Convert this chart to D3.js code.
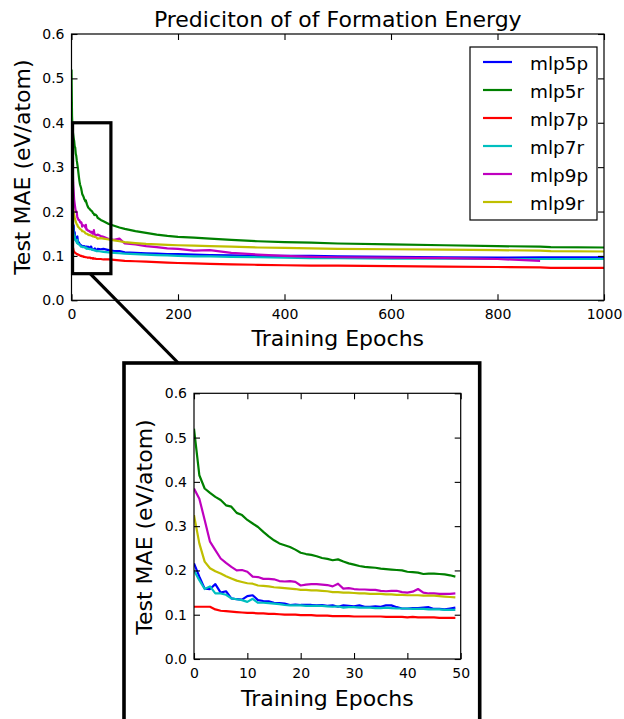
<!DOCTYPE html>
<html><head><meta charset="utf-8">
<script src="https://cdn.jsdelivr.net/npm/d3@7"></script>
<style>
html,body{margin:0;padding:0;background:#fff;}
svg{display:block;font-family:"DejaVu Sans",sans-serif;}
</style></head><body>
<svg id="chart" width="624" height="719"></svg>
<script>
// ---------------- DATA ----------------
const epochs = [0,1,2,3,4,5,6,7,8,9,10,11,12,13,14,15,16,17,18,19,20,21,22,23,24,25,26,27,28,29,30,31,32,33,34,35,36,37,38,39,40,41,42,43,44,45,46,47,48,49,
  55,60,70,80,90,100,120,140,160,180,200,230,260,300,350,400,450,500,600,700,800,880,900,1000];

const mlp5p = [0.216,0.186,0.159,0.158,0.169,0.150,0.153,0.137,0.135,0.134,0.142,0.144,0.133,0.131,0.130,0.127,0.126,0.125,0.122,0.123,0.122,0.122,0.122,0.121,0.122,0.120,0.121,0.118,0.121,0.120,0.119,0.121,0.118,0.118,0.119,0.118,0.121,0.121,0.117,0.114,0.114,0.115,0.115,0.116,0.117,0.113,0.113,0.112,0.114,0.116,
  0.115,0.116,0.113,0.111,0.111,0.108,0.107,0.106,0.105,0.104,0.104,0.103,0.102,0.101,0.100,0.100,0.100,0.099,0.098,0.097,0.096,0.097,0.097,0.097];
const mlp5r = [0.520,0.415,0.385,0.375,0.366,0.359,0.347,0.344,0.330,0.325,0.314,0.306,0.298,0.287,0.277,0.268,0.261,0.257,0.253,0.247,0.240,0.237,0.235,0.232,0.228,0.226,0.223,0.225,0.220,0.216,0.213,0.210,0.208,0.207,0.206,0.204,0.203,0.202,0.201,0.200,0.197,0.196,0.195,0.192,0.193,0.193,0.192,0.191,0.189,0.186,
  0.181,0.178,0.172,0.168,0.164,0.161,0.156,0.152,0.148,0.145,0.143,0.141,0.139,0.136,0.133,0.131,0.130,0.128,0.126,0.124,0.122,0.121,0.120,0.119];
const mlp7p = [0.118,0.118,0.118,0.118,0.112,0.109,0.108,0.107,0.106,0.105,0.104,0.104,0.103,0.103,0.102,0.102,0.101,0.100,0.100,0.100,0.099,0.099,0.099,0.098,0.098,0.098,0.097,0.097,0.097,0.097,0.096,0.096,0.096,0.096,0.096,0.096,0.095,0.095,0.095,0.095,0.094,0.095,0.094,0.094,0.094,0.094,0.093,0.093,0.093,0.093,
  0.093,0.092,0.092,0.091,0.090,0.089,0.088,0.087,0.086,0.085,0.084,0.083,0.082,0.081,0.080,0.079,0.078,0.078,0.077,0.076,0.075,0.074,0.073,0.073];
const mlp7r = [0.200,0.178,0.158,0.164,0.148,0.148,0.145,0.137,0.135,0.133,0.129,0.136,0.127,0.127,0.126,0.125,0.124,0.122,0.121,0.121,0.121,0.120,0.120,0.120,0.120,0.119,0.118,0.119,0.116,0.117,0.117,0.116,0.116,0.116,0.115,0.115,0.116,0.115,0.114,0.114,0.114,0.113,0.113,0.113,0.112,0.112,0.112,0.111,0.111,0.111,
  0.110,0.109,0.108,0.107,0.106,0.105,0.104,0.103,0.102,0.101,0.100,0.099,0.099,0.098,0.097,0.096,0.095,0.095,0.094,0.094,0.093,0.093,0.093,0.093];
const mlp9p = [0.385,0.362,0.314,0.265,0.246,0.227,0.217,0.208,0.200,0.201,0.197,0.186,0.185,0.181,0.181,0.180,0.176,0.175,0.176,0.174,0.166,0.168,0.169,0.169,0.168,0.167,0.164,0.170,0.159,0.160,0.158,0.157,0.157,0.156,0.156,0.154,0.153,0.154,0.154,0.151,0.150,0.152,0.158,0.150,0.148,0.148,0.147,0.147,0.147,0.148,
  0.145,0.143,0.138,0.136,0.139,0.128,0.126,0.122,0.120,0.117,0.116,0.112,0.113,0.107,0.103,0.100,0.098,0.097,0.096,0.095,0.093,0.089,null,null];
const mlp9r = [0.325,0.261,0.220,0.205,0.198,0.193,0.187,0.182,0.177,0.174,0.171,0.170,0.166,0.165,0.164,0.162,0.161,0.160,0.159,0.158,0.156,0.156,0.155,0.155,0.154,0.153,0.151,0.151,0.150,0.150,0.149,0.148,0.148,0.147,0.147,0.147,0.146,0.146,0.145,0.145,0.144,0.144,0.144,0.143,0.143,0.143,0.142,0.141,0.140,0.139,
  0.140,0.139,0.137,0.135,0.133,0.131,0.129,0.127,0.126,0.125,0.124,0.123,0.122,0.121,0.119,0.118,0.117,0.116,0.115,0.114,0.113,0.112,0.111,0.110];

const seriesNames = ["mlp5p","mlp5r","mlp7p","mlp7r","mlp9p","mlp9r"];
const seriesValues = [mlp5p, mlp5r, mlp7p, mlp7r, mlp9p, mlp9r];
const seriesColors = ["#0000ff","#008000","#ff0000","#00bfbf","#bf00bf","#bfbf00"];

const mainXTicks = [0,200,400,600,800,1000];
const insetXTicks = [0,10,20,30,40,50];
const yTicks = [0.0,0.1,0.2,0.3,0.4,0.5,0.6];
const mainXDomain = [0,1000];
const insetXDomain = [0,50];
const yDomain = [0,0.6];
const zoomRegion = {x0:2, x1:74, y0:0.06, y1:0.4, linkEpoch:35};

const titleText = "Prediciton of of Formation Energy";
const xLabelText = "Training Epochs";
const yLabelText = "Test MAE (eV/atom)";

// ---------------- DRAW ----------------
const svg = d3.select("#chart");
svg.append("rect").attr("width",624).attr("height",719).attr("fill","#fff");

function drawPanel(id, box, xDomain, xTicks) {
  const g = svg.append("g").attr("id", id);
  const x = d3.scaleLinear().domain(xDomain).range([box.left, box.right]);
  const y = d3.scaleLinear().domain(yDomain).range([box.bottom, box.top]);

  svg.append("clipPath").attr("id", id + "-clip")
    .append("rect").attr("x", box.left).attr("y", box.top)
    .attr("width", box.right - box.left).attr("height", box.bottom - box.top);

  const lineGen = d3.line()
    .defined(d => d[1] != null)
    .x(d => x(d[0])).y(d => y(d[1]));

  const lines = g.append("g").attr("clip-path", `url(#${id}-clip)`);
  seriesValues.forEach((vals, i) => {
    const data = epochs.map((e, j) => [e, vals[j]]).filter(d => d[0] <= xDomain[1]);
    lines.append("path").datum(data)
      .attr("d", lineGen)
      .attr("fill", "none")
      .attr("stroke", seriesColors[i])
      .attr("stroke-width", 2.2)
      .attr("stroke-linejoin", "round");
  });

  const styleAxis = sel => {
    sel.attr("font-size", 14).attr("font-family", "DejaVu Sans, sans-serif");
    sel.select(".domain").remove();
    sel.selectAll(".tick line").attr("stroke", "#000").attr("stroke-width", 1.1);
    sel.selectAll(".tick text").attr("fill", "#000");
  };

  g.append("g").attr("transform", `translate(0,${box.bottom})`)
    .call(d3.axisBottom(x).tickValues(xTicks).tickFormat(d3.format("d"))
      .tickSizeInner(-6).tickSizeOuter(0).tickPadding(9))
    .call(styleAxis);
  g.append("g").attr("transform", `translate(0,${box.top})`)
    .call(d3.axisTop(x).tickValues(xTicks).tickFormat("")
      .tickSizeInner(-6).tickSizeOuter(0))
    .call(styleAxis);
  g.append("g").attr("transform", `translate(${box.left},0)`)
    .call(d3.axisLeft(y).tickValues(yTicks).tickFormat(d3.format(".1f"))
      .tickSizeInner(-6).tickSizeOuter(0).tickPadding(7))
    .call(styleAxis);
  g.append("g").attr("transform", `translate(${box.right},0)`)
    .call(d3.axisRight(y).tickValues(yTicks).tickFormat("")
      .tickSizeInner(-6).tickSizeOuter(0))
    .call(styleAxis);

  g.append("rect")
    .attr("x", box.left).attr("y", box.top)
    .attr("width", box.right - box.left).attr("height", box.bottom - box.top)
    .attr("fill", "none").attr("stroke", "#000").attr("stroke-width", 1.2);

  return {x, y, g};
}

// Main panel
const mainBox = {left:71.5, right:604, top:34, bottom:300.3};
const main = drawPanel("main", mainBox, mainXDomain, mainXTicks);

svg.append("text").attr("x", (mainBox.left + mainBox.right) / 2).attr("y", 27)
  .attr("text-anchor", "middle").attr("font-size", 22).text(titleText);
svg.append("text").attr("x", (mainBox.left + mainBox.right) / 2).attr("y", 346)
  .attr("text-anchor", "middle").attr("font-size", 22).text(xLabelText);
svg.append("text").attr("transform", `translate(30,${(mainBox.top + mainBox.bottom) / 2}) rotate(-90)`)
  .attr("text-anchor", "middle").attr("font-size", 22).text(yLabelText);

// Legend
const legend = svg.append("g");
legend.append("rect").attr("x", 470).attr("y", 47).attr("width", 127).attr("height", 173)
  .attr("fill", "#fff").attr("stroke", "#000").attr("stroke-width", 1.2);
seriesNames.forEach((name, i) => {
  const ly = 62 + i * 28;
  legend.append("line").attr("x1", 483).attr("x2", 512).attr("y1", ly).attr("y2", ly)
    .attr("stroke", seriesColors[i]).attr("stroke-width", 2.2);
  legend.append("text").attr("x", 530).attr("y", ly + 7.5).attr("font-size", 18.4).text(name);
});

// Inset panel
const insetBox = {left:194, right:460.7, top:393.3, bottom:659};
const inset = drawPanel("inset", insetBox, insetXDomain, insetXTicks);
svg.append("text").attr("x", (insetBox.left + insetBox.right) / 2).attr("y", 706)
  .attr("text-anchor", "middle").attr("font-size", 22).text(xLabelText);
svg.append("text").attr("transform", `translate(152,527) rotate(-90)`)
  .attr("text-anchor", "middle").attr("font-size", 22).text(yLabelText);

// Inset frame
svg.append("rect").attr("x", 124).attr("y", 363).attr("width", 355.7).attr("height", 400)
  .attr("fill", "none").attr("stroke", "#000").attr("stroke-width", 3.6);

// Zoom region rectangle in main and link line
svg.append("rect")
  .attr("x", main.x(zoomRegion.x0)).attr("y", main.y(zoomRegion.y1))
  .attr("width", main.x(zoomRegion.x1) - main.x(zoomRegion.x0))
  .attr("height", main.y(zoomRegion.y0) - main.y(zoomRegion.y1))
  .attr("fill", "none").attr("stroke", "#000").attr("stroke-width", 3.2);
svg.append("line")
  .attr("x1", main.x(zoomRegion.linkEpoch)).attr("y1", main.y(zoomRegion.y0))
  .attr("x2", 178.3).attr("y2", 363)
  .attr("stroke", "#000").attr("stroke-width", 3.2);
</script>
</body></html>
